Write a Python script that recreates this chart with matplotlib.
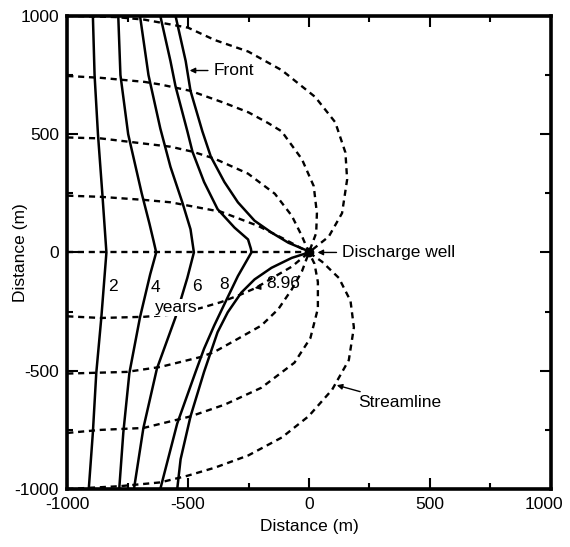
import numpy as np
import matplotlib
matplotlib.use("Agg")
import matplotlib.pyplot as plt
from matplotlib.transforms import ScaledTranslation

plt.rcParams['font.family'] = ['Liberation Sans', 'DejaVu Sans']
plt.rcParams['axes.unicode_minus'] = False

# Streamlines (dashed); all end in the discharge well at (0, 0)
s_up1000_x = [-1000, -800, -681, -500, -390, -251, -112, 26, 109, 151, 158, 137, 82, 0]
s_up1000_y = [1000, 995, 984, 950, 898, 849, 770, 657, 550, 422, 308, 166, 67, 0]

s_up750_x = [-1000, -861, -681, -615, -490, -350, -250, -169, -113, -29, 20, 26, 33, 30, 0]
s_up750_y = [746, 738, 721, 710, 683, 632, 592, 547, 512, 394, 280, 226, 166, 82, 0]

s_up500_x = [-1000, -861, -681, -573, -482, -392, -252, -141, -71, -29, 0]
s_up500_y = [486, 482, 460, 447, 426, 397, 333, 248, 155, 69, 0]

s_up250_x = [-1000, -861, -681, -573, -364, -210, -99, 0]
s_up250_y = [240, 235, 222, 212, 172, 112, 55, 0]

s_zero_x = [-1000, 0]
s_zero_y = [0, 0]

s_dn250_x = [-1000, -861, -681, -560, -448, -364, -280, -220, -155, -71, 0]
s_dn250_y = [-270, -277, -272, -262, -235, -210, -177, -150, -110, -60, 0]

s_dn500_x = [-1000, -754, -615, -448, -392, -294, -197, -127, -71, -29, 0]
s_dn500_y = [-512, -505, -484, -442, -421, -365, -309, -240, -156, -80, 0]

s_dn750_x = [-1000, -861, -685, -545, -490, -348, -197, -60, 6, 37, 37, 23, 0]
s_dn750_y = [-763, -750, -742, -707, -693, -643, -572, -466, -362, -237, -125, -48, 0]

s_dn1000_x = [-1000, -782, -615, -503, -390, -251, -112, -1, 96, 165, 186, 172, 124, 54, 0]
s_dn1000_y = [-1000, -988, -972, -944, -910, -858, -782, -692, -580, -455, -317, -205, -108, -39, 0]

# Fronts (solid) after 2, 4, 6, 8 and 8.96 years
f2_x = [-894, -887, -873, -855, -838, -859, -880, -894, -911]
f2_y = [1000, 750, 500, 250, 0, -275, -510, -761, -1000]

f4_x = [-789, -780, -748, -692, -660, -643, -632, -657, -699, -743, -768, -785]
f4_y = [1000, 750, 500, 250, 122, 49, 0, -93, -274, -510, -761, -1000]

f6_x = [-699, -664, -615, -573, -524, -490, -476, -503, -552, -629, -685, -724]
f6_y = [1000, 750, 524, 362, 212, 98, 0, -107, -274, -491, -742, -1000]

f8_x = [-615, -573, -552, -503, -482, -434, -378, -308, -252, -240, -238,
        -294, -343, -392, -434, -469, -545, -615]
f8_y = [1000, 809, 702, 512, 426, 298, 183, 105, 55, 15, 0,
        -100, -204, -309, -407, -505, -723, -1000]

f896_x = [-552, -510, -490, -441, -406, -350, -294, -225, -155, -85, -8, 0,
          -71, -155, -225, -280, -336, -378, -406, -434, -490, -531, -545]
f896_y = [1000, 809, 683, 512, 405, 298, 212, 134, 84, 41, 8, 0,
          -23, -65, -114, -170, -253, -337, -421, -505, -693, -874, -1000]

year_labels = ["2", "4", "6", "8"]

fig = plt.figure(figsize=(5.7, 5.47), dpi=100)
ax = fig.add_axes([0.118, 0.106, 0.848, 0.865])

streams = [(s_up1000_x, s_up1000_y), (s_up750_x, s_up750_y), (s_up500_x, s_up500_y),
           (s_up250_x, s_up250_y), (s_zero_x, s_zero_y), (s_dn250_x, s_dn250_y),
           (s_dn500_x, s_dn500_y), (s_dn750_x, s_dn750_y), (s_dn1000_x, s_dn1000_y)]
for sx, sy in streams:
    ax.plot(sx, sy, color='black', lw=1.7, linestyle=(0, (2.6, 2.0)))

fronts = [(f2_x, f2_y), (f4_x, f4_y), (f6_x, f6_y), (f8_x, f8_y), (f896_x, f896_y)]
for fx, fy in fronts:
    ax.plot(fx, fy, color='black', lw=1.8, solid_joinstyle='round')

# discharge well
ax.plot([0], [0], marker='o', ms=6, color='black')

fs = 12.5
for lab, lx, ly in zip(year_labels, [-813, -635, -465, -350], [-142, -148, -142, -135]):
    ax.text(lx, ly, lab, fontsize=fs, ha='center', va='center')
ax.text(-549, -232, "years", fontsize=fs, ha='center', va='center',
        bbox=dict(facecolor='white', edgecolor='none', pad=0.5))

arrow = dict(arrowstyle='-|>', color='black', lw=1.0, mutation_scale=8)
ax.annotate("8.96", xy=(-236, -152), xytext=(-176, -130), fontsize=fs,
            ha='left', va='center', arrowprops=arrow)
ax.annotate("Front", xy=(-505, 769), xytext=(-395, 769), fontsize=fs,
            ha='left', va='center', arrowprops=arrow)
ax.annotate("Discharge well", xy=(24, 0), xytext=(137, 0), fontsize=fs,
            ha='left', va='center', arrowprops=arrow)
ax.annotate("Streamline", xy=(104, -558), xytext=(205, -635), fontsize=fs,
            ha='left', va='center', arrowprops=arrow)

ax.set_xlim(-1000, 1000)
ax.set_ylim(-1000, 1000)
ax.set_xticks([-1000, -500, 0, 500, 1000])
ax.set_yticks([-1000, -500, 0, 500, 1000])
ax.set_xticks([-750, -250, 250, 750], minor=True)
ax.set_yticks([-750, -250, 250, 750], minor=True)
ax.tick_params(which='both', direction='in', top=True, right=True, width=1.5,
               labelsize=fs, pad=6)
ax.tick_params(which='major', length=8)
ax.tick_params(which='minor', length=4.5)
for sp in ax.spines.values():
    sp.set_linewidth(2.6)

# the last x label sits a little left of its tick, as in the original
last = ax.get_xticklabels()[-1]
last.set_transform(last.get_transform() + ScaledTranslation(-7 / 100, 0, fig.dpi_scale_trans))

ax.set_xlabel("Distance (m)", fontsize=fs, labelpad=5)
ax.set_ylabel("Distance (m)", fontsize=fs)
ax.yaxis.set_label_coords(-0.082, 0.5)

plt.savefig("out.png", dpi=100)
